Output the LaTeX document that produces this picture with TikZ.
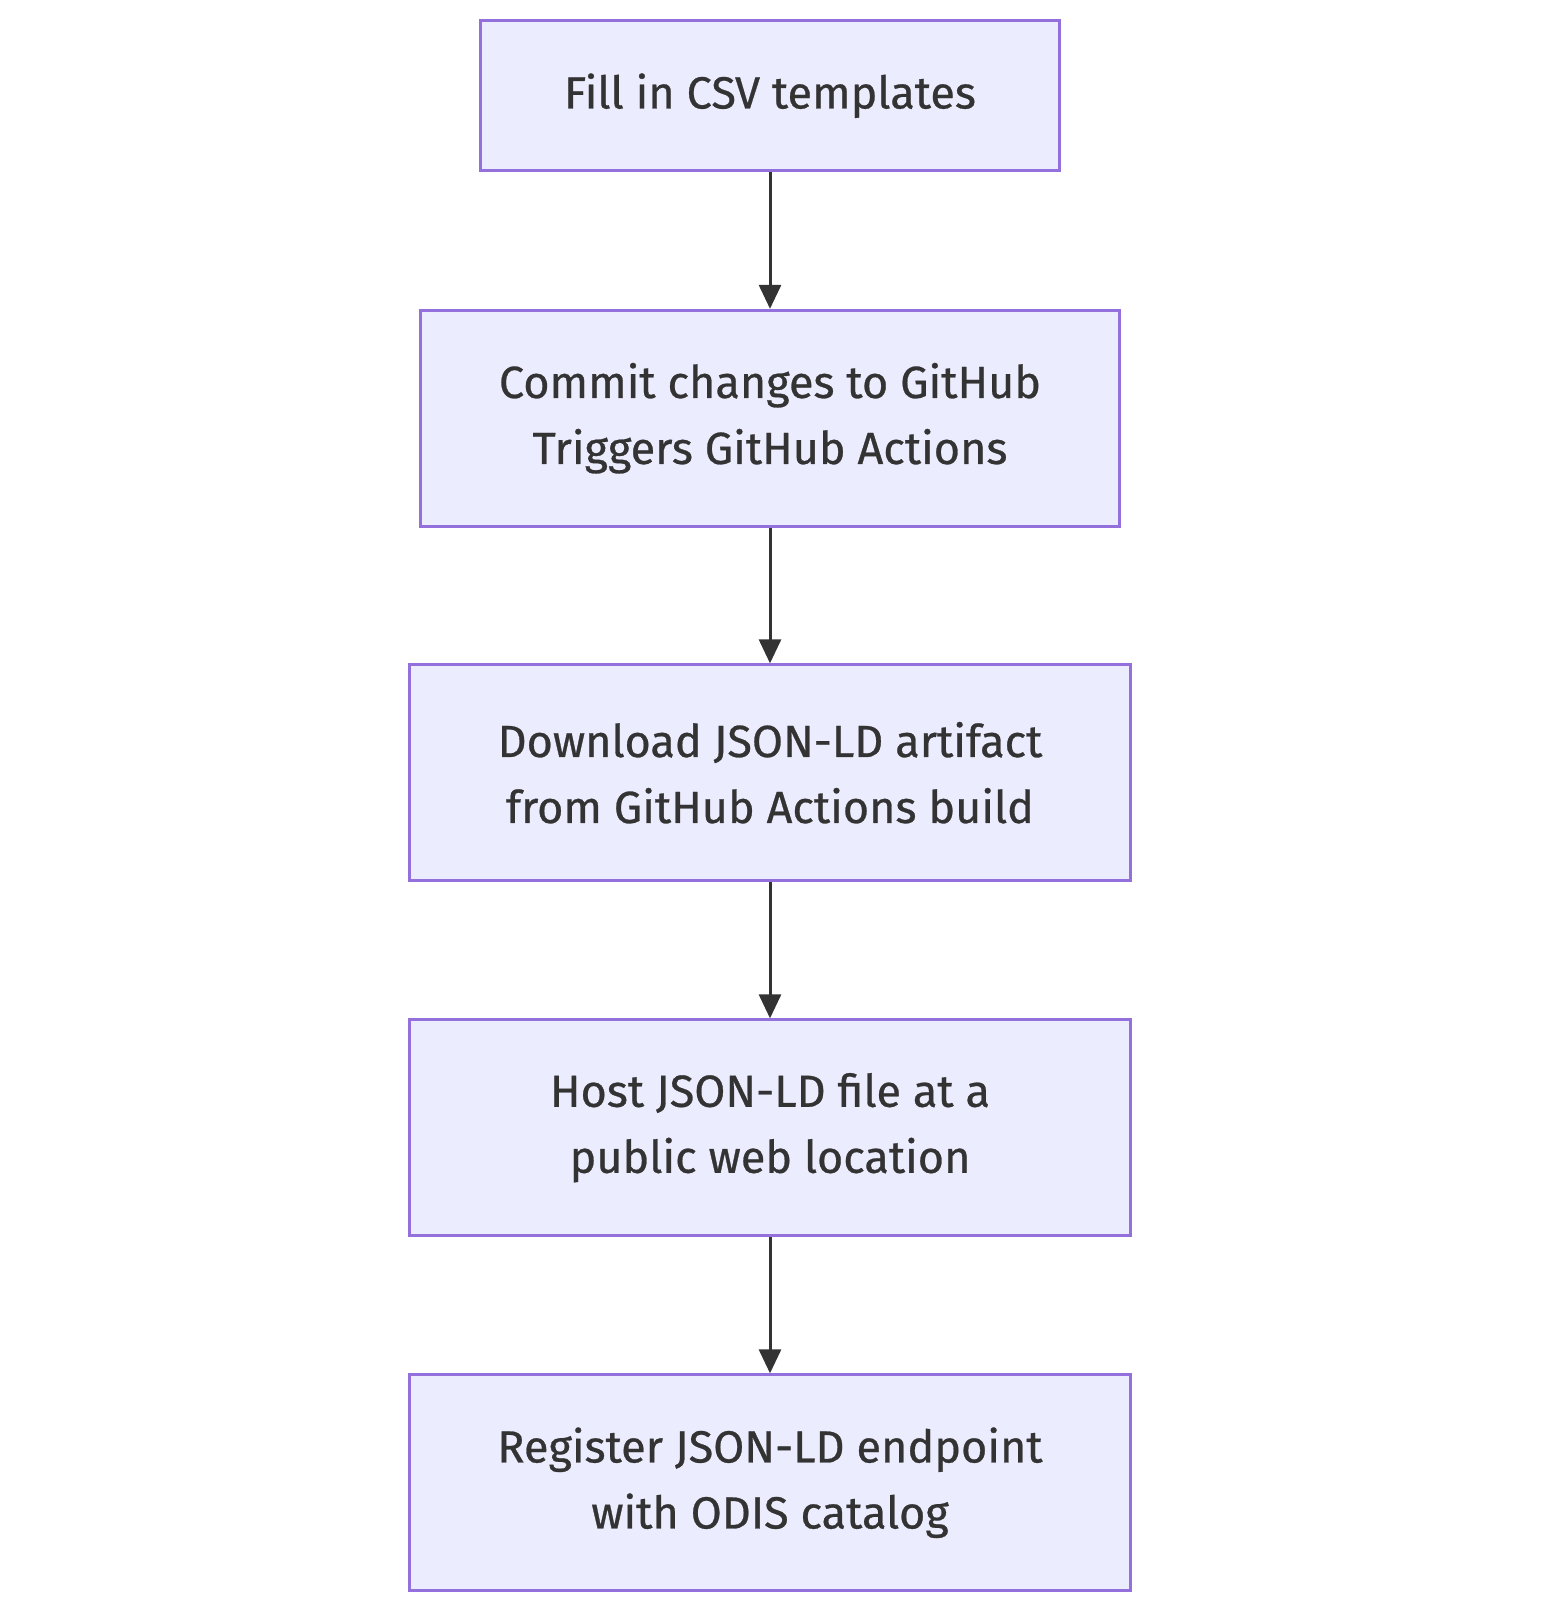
\documentclass[tikz,border=0pt]{standalone}
\usepackage{fontspec}
\setmainfont{Fira Sans}[FakeBold=0.6]
\usetikzlibrary{arrows.meta}
\definecolor{boxfill}{HTML}{ECECFF}
\definecolor{boxline}{HTML}{9370DB}
\definecolor{arrowgray}{HTML}{333333}
\tikzset{
  stepbox/.style={draw=boxline, fill=boxfill, line width=2.75pt, align=center,
    text=arrowgray, inner sep=0pt, minimum height=216pt,
    font=\fontsize{45}{66}\selectfont},
  flow/.style={draw=arrowgray, line width=3pt,
    -{Triangle[length=24pt,width=22pt]}}
}
\begin{document}
\begin{tikzpicture}[x=1pt,y=-1pt]
        % Set page size
        \useasboundingbox (0,0) rectangle (1540,1612);

        % Steps
        \node[stepbox, minimum width=579.5pt, minimum height=150pt] (fill) at (770,95.7) {Fill in CSV templates};
        \node[stepbox, minimum width=698.7pt] (commit) at (770,418.2) {Commit changes to GitHub\\Triggers GitHub Actions};
        \node[stepbox, minimum width=721.4pt] (download) at (770,772.7) {Download JSON-LD artifact\\from GitHub Actions build};
        \node[stepbox, minimum width=721.4pt] (host) at (770,1127.7) {Host JSON-LD file at a\\public web location};
        \node[stepbox, minimum width=721.4pt] (register) at (770,1482.7) {Register JSON-LD endpoint\\with ODIS catalog};

        % Connect steps
        \draw[flow] (fill.south) -- (commit.north);
        \draw[flow] (commit.south) -- (download.north);
        \draw[flow] (download.south) -- (host.north);
        \draw[flow] (host.south) -- (register.north);

        \end{tikzpicture}
\end{document}
